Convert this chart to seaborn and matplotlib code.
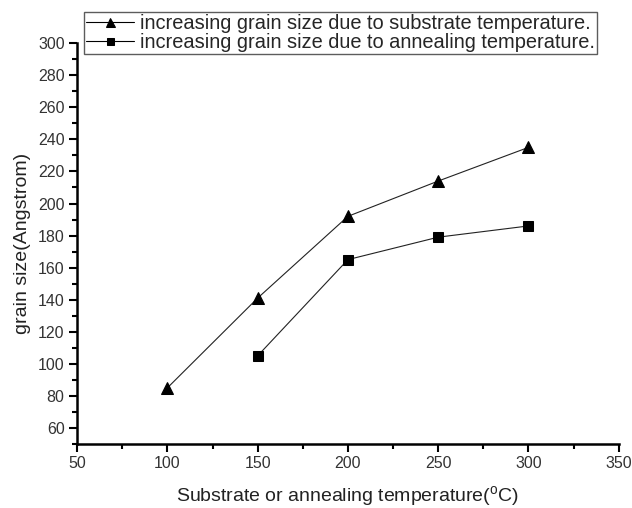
import matplotlib
matplotlib.use("Agg")
import matplotlib.pyplot as plt
import seaborn as sns
import pandas as pd
from matplotlib.ticker import MultipleLocator

# grain size vs temperature
substrate_temp = [100, 150, 200, 250, 300]
substrate_size = [85, 141, 192, 214, 235]
anneal_temp = [150, 200, 250, 300]
anneal_size = [105, 165, 179, 186]

label_substrate = "increasing grain size due to substrate temperature."
label_anneal = "increasing grain size due to annealing temperature."

sns.set_style("ticks")
plt.rcParams["font.family"] = ["Liberation Sans", "DejaVu Sans"]
plt.rcParams["mathtext.fontset"] = "custom"
plt.rcParams["mathtext.rm"] = "Liberation Sans"

df_sub = pd.DataFrame({"T": substrate_temp, "size": substrate_size})
df_ann = pd.DataFrame({"T": anneal_temp, "size": anneal_size})

fig = plt.figure(figsize=(6.32, 5.08), dpi=100)
ax = fig.add_axes([0.122, 0.126, 0.857, 0.789])

sns.lineplot(data=df_sub, x="T", y="size", ax=ax, color="#222222", linewidth=0.8,
             marker="^", markersize=9, markerfacecolor="black", markeredgecolor="black",
             label=label_substrate)
sns.lineplot(data=df_ann, x="T", y="size", ax=ax, color="#222222", linewidth=0.8,
             marker="s", markersize=7, markerfacecolor="black", markeredgecolor="black",
             label=label_anneal)

ax.set_xlim(50, 350)
ax.set_ylim(50, 300)
ax.xaxis.set_major_locator(MultipleLocator(50))
ax.xaxis.set_minor_locator(MultipleLocator(25))
ax.yaxis.set_minor_locator(MultipleLocator(10))
ax.set_yticks(range(60, 301, 20))

for side in ("top", "right"):
    ax.spines[side].set_visible(False)
for side in ("left", "bottom"):
    ax.spines[side].set_linewidth(1.8)
    ax.spines[side].set_color("black")

ax.tick_params(which="major", direction="out", length=6, width=1.5, labelsize=11.5,
               colors="black", labelcolor="#333333", pad=3)
ax.tick_params(which="minor", direction="out", length=3.5, width=1.5, colors="black")

ax.set_xlabel(r"Substrate or annealing temperature($^{\mathrm{o}}$C)", fontsize=14,
              color="#222222", labelpad=9)
ax.set_ylabel("grain size(Angstrom)", fontsize=14, color="#222222", labelpad=5)

leg = ax.legend(loc="upper left", bbox_to_anchor=(0.133, 0.976),
                bbox_transform=fig.transFigure, frameon=True, fancybox=False,
                edgecolor="#333333", fontsize=14.4, handlelength=2.4,
                handletextpad=0.3, borderpad=0.1, labelspacing=0.0,
                borderaxespad=0, markerscale=0.72)
leg.get_frame().set_linewidth(1.0)
for h in leg.legend_handles:
    h.set_color("black")

fig.savefig("out.png", dpi=100)
